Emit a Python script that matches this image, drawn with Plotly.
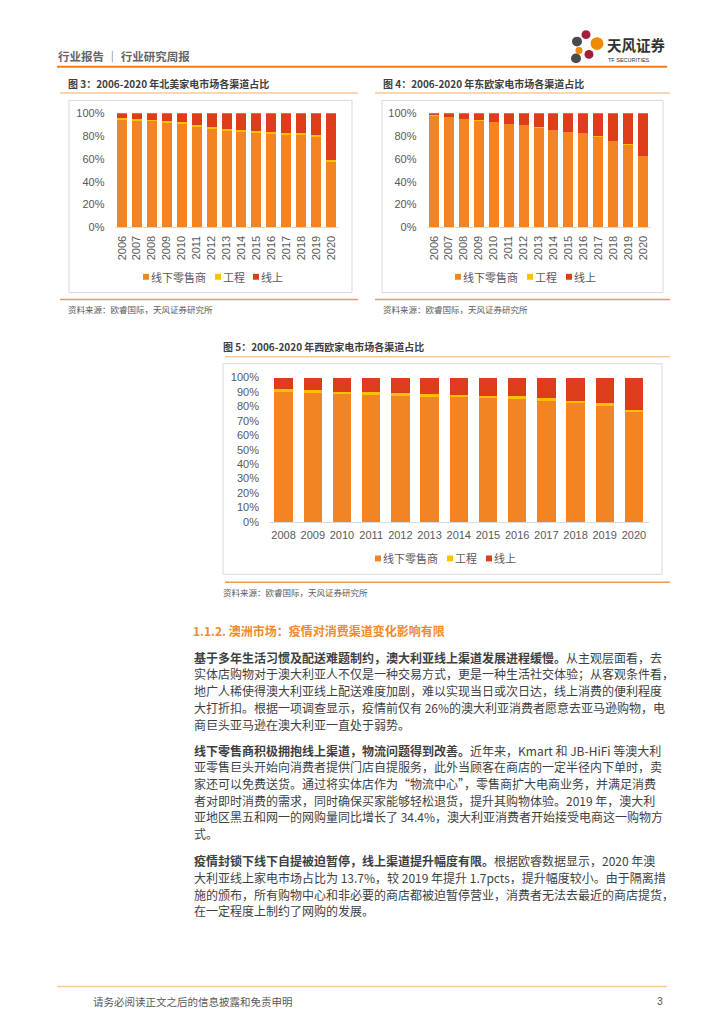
import plotly.graph_objects as go

# ---------------- data ----------------
years_na = ["2006", "2007", "2008", "2009", "2010", "2011", "2012", "2013",
            "2014", "2015", "2016", "2017", "2018", "2019", "2020"]
na_offline = [94.0, 93.5, 93.5, 92.0, 90.5, 88.5, 86.5, 84.5, 84.0, 82.5, 82.0, 81.0, 81.0, 79.0, 57.0]
na_project = [1.5, 1.5, 1.0, 1.5, 1.5, 1.5, 1.5, 1.5, 1.5, 2.0, 1.5, 2.0, 1.5, 1.5, 2.0]
na_online = [4.5, 5.0, 5.5, 6.5, 8.0, 10.0, 12.0, 14.0, 14.5, 15.5, 16.5, 17.0, 17.5, 19.5, 41.0]

years_ee = ["2006", "2007", "2008", "2009", "2010", "2011", "2012", "2013",
            "2014", "2015", "2016", "2017", "2018", "2019", "2020"]
ee_offline = [98.0, 96.5, 95.0, 93.5, 92.5, 90.5, 89.5, 87.5, 85.5, 83.5, 82.5, 79.5, 75.5, 72.5, 62.5]
ee_project = [0.2, 0.2, 0.2, 0.2, 0.2, 0.2, 0.2, 0.2, 0.2, 0.2, 0.2, 0.2, 0.2, 0.2, 0.2]
ee_online = [1.8, 3.3, 4.8, 6.3, 7.3, 9.3, 10.3, 12.3, 14.3, 16.3, 17.3, 20.3, 24.3, 27.3, 37.3]

years_we = ["2008", "2009", "2010", "2011", "2012", "2013", "2014", "2015",
            "2016", "2017", "2018", "2019", "2020"]
we_offline = [90.5, 90.0, 89.0, 88.5, 88.0, 87.5, 87.0, 86.5, 86.0, 84.5, 83.0, 81.0, 76.5]
we_project = [1.3, 1.1, 1.3, 1.3, 1.0, 1.1, 1.1, 1.0, 0.9, 1.1, 1.1, 1.1, 0.9]
we_online = [8.2, 8.9, 9.7, 10.2, 11.0, 11.4, 11.9, 12.5, 13.1, 14.4, 15.9, 17.9, 22.6]

series_names = ["线下零售商", "工程", "线上"]
pct_ticks_20 = [0, 20, 40, 60, 80, 100]
pct_labels_20 = ["0%", "20%", "40%", "60%", "80%", "100%"]
pct_ticks_10 = [0, 10, 20, 30, 40, 50, 60, 70, 80, 90, 100]
pct_labels_10 = ["0%", "10%", "20%", "30%", "40%", "50%", "60%", "70%", "80%", "90%", "100%"]

# ---------------- style ----------------
W, H = 724, 1024
C_OFF, C_PROJ, C_ONL = "#F38423", "#FFC000", "#DE3D1C"
COLORS = [C_OFF, C_PROJ, C_ONL]
CJK = "Noto Sans CJK SC"
NUM = "Liberation Sans, Noto Sans CJK SC"
GRAY = "#595959"
TXT = "#3F3F3F"


def px(x):
    return x / W


def py(y):
    return 1 - y / H


fig = go.Figure()


def add_chart(xa, ya, years, off, proj, onl, width):
    for name, vals, c in zip(series_names, [off, proj, onl], COLORS):
        fig.add_trace(go.Bar(x=years, y=vals, name=name, marker_color=c,
                             marker_line_width=0, width=width,
                             xaxis=xa, yaxis=ya, showlegend=False))


add_chart("x", "y", years_na, na_offline, na_project, na_online, 0.67)
add_chart("x2", "y2", years_ee, ee_offline, ee_project, ee_online, 0.67)
add_chart("x3", "y3", years_we, we_offline, we_project, we_online, 0.63)

shapes = []
annotations = []


def hline(x0, x1, y, color, w=1.5):
    shapes.append(dict(type="line", xref="paper", yref="paper",
                       x0=px(x0), x1=px(x1), y0=py(y), y1=py(y),
                       line=dict(color=color, width=w)))


def box(x0, x1, y0, y1):
    shapes.append(dict(type="rect", xref="paper", yref="paper",
                       x0=px(x0), x1=px(x1), y0=py(y1), y1=py(y0),
                       line=dict(color="#D9D9D9", width=1), fillcolor="rgba(0,0,0,0)",
                       layer="below"))


def text(x, y, s, size, color=TXT, family=CJK, anchor="left"):
    annotations.append(dict(x=px(x), y=py(y), xref="paper", yref="paper",
                            text=s, showarrow=False, xanchor=anchor, yanchor="middle",
                            font=dict(family=family, size=size, color=color),
                            borderpad=0))


def legend(xs, y):
    for x0, c, name in zip(xs, COLORS, series_names):
        shapes.append(dict(type="rect", xref="paper", yref="paper",
                           x0=px(x0), x1=px(x0 + 6), y0=py(y + 3), y1=py(y - 3),
                           line=dict(width=0), fillcolor=c))
        text(x0 + 7, y, name, 11, GRAY)


# header
text(57, 51, "<b>行业报告 ｜ 行业研究周报</b>", 11.5, "#666666")
hline(57, 667, 61.5, "#EE7D1E", 2)
# logo
for (cx, cy, r, c) in [(577, 36, 5, "#4A4A4A"), (586, 29, 4.5, "#A31E3A"), (597, 38, 6.5, "#F08A00"),
                       (579, 45, 3.5, "#F08A00"), (589, 49, 4.5, "#A31E3A"), (576, 53, 5, "#4A4A4A")]:
    shapes.append(dict(type="circle", xref="paper", yref="paper",
                       x0=px(cx - r), x1=px(cx + r), y0=py(cy + r), y1=py(cy - r),
                       line=dict(width=0), fillcolor=c))
text(606, 39, "<b>天风证券</b>", 14.5, "#333333")
text(607, 55, "TF SECURITIES", 5.5, "#333333", NUM)

# chart 3
text(67, 78, "<b>图 3：2006-2020 年北美家电市场各渠道占比</b>", 10, "#404040")
hline(60, 358, 88, "#FAC896", 1.5)
box(69, 352, 95.5, 290)
legend([143, 215, 253], 274)
hline(60, 358, 297, "#F39A4A", 1.5)
text(67, 307, "资料来源：欧睿国际，天风证券研究所", 8.5, GRAY)

# chart 4
text(382, 78, "<b>图 4：2006-2020 年东欧家电市场各渠道占比</b>", 10, "#404040")
hline(375, 670, 88, "#FAC896", 1.5)
box(382, 663, 95.5, 290)
legend([455, 527, 566], 274)
hline(375, 670, 297, "#F39A4A", 1.5)
text(382, 307, "资料来源：欧睿国际，天风证券研究所", 8.5, GRAY)

# chart 5
text(222, 345, "<b>图 5：2006-2020 年西欧家电市场各渠道占比</b>", 10, "#404040")
hline(225, 670, 355, "#FAC896", 1.5)
box(223, 662, 362, 575)
legend([375, 447, 486], 559)
hline(225, 670, 583, "#F39A4A", 1.5)
text(222, 593, "资料来源：欧睿国际，天风证券研究所", 8.5, GRAY)

# body text
text(192, 632, "<b>1.1.2. 澳洲市场：疫情对消费渠道变化影响有限</b>", 12, "#F08A2C")

para1 = [
    "<b>基于多年生活习惯及配送难题制约，澳大利亚线上渠道发展进程缓慢。</b>从主观层面看，去",
    "实体店购物对于澳大利亚人不仅是一种交易方式，更是一种生活社交体验；从客观条件看，",
    "地广人稀使得澳大利亚线上配送难度加剧，难以实现当日或次日达，线上消费的便利程度",
    "大打折扣。根据一项调查显示，疫情前仅有 26%的澳大利亚消费者愿意去亚马逊购物，电",
    "商巨头亚马逊在澳大利亚一直处于弱势。",
]
para2 = [
    "<b>线下零售商积极拥抱线上渠道，物流问题得到改善。</b>近年来，Kmart 和 JB-HiFi 等澳大利",
    "亚零售巨头开始向消费者提供门店自提服务，此外当顾客在商店的一定半径内下单时，卖",
    "家还可以免费送货。通过将实体店作为“物流中心”，零售商扩大电商业务，并满足消费",
    "者对即时消费的需求，同时确保买家能够轻松退货，提升其购物体验。2019 年，澳大利",
    "亚地区黑五和网一的网购量同比增长了 34.4%，澳大利亚消费者开始接受电商这一购物方",
    "式。",
]
para3 = [
    "<b>疫情封锁下线下自提被迫暂停，线上渠道提升幅度有限。</b>根据欧睿数据显示，2020 年澳",
    "大利亚线上家电市场占比为 13.7%，较 2019 年提升 1.7pcts，提升幅度较小。由于隔离措",
    "施的颁布，所有购物中心和非必要的商店都被迫暂停营业，消费者无法去最近的商店提货，",
    "在一定程度上制约了网购的发展。",
]
for start, para in [(659, para1), (753, para2), (865, para3)]:
    for i, line in enumerate(para):
        text(193, start + i * 16.9, line, 12, TXT)

# footer
hline(57, 667, 992, "#F9C98E", 1.5)
text(92, 1007, "请务必阅读正文之后的信息披露和免责申明", 10.5, GRAY)
text(664, 1007, "3", 10.5, GRAY, NUM, anchor="right")

# ---------------- axes ----------------
xcommon = dict(type="category", showline=True, linecolor="#D9D9D9", linewidth=1,
               showgrid=False, ticks="", zeroline=False,
               tickfont=dict(family=NUM, size=11, color=GRAY))
ycommon = dict(range=[0, 100], showgrid=False, zeroline=False, tickmode="array",
               showline=False, ticks="", ticklabelstandoff=9,
               tickfont=dict(family=NUM, size=11, color=GRAY))

fig.update_layout(
    width=W, height=H, autosize=False,
    margin=dict(l=0, r=0, t=0, b=0),
    paper_bgcolor="white", plot_bgcolor="rgba(0,0,0,0)",
    barmode="stack", showlegend=False,
    xaxis=dict(xcommon, domain=[px(114.5), px(338.5)], anchor="y", tickangle=-90, ticklabelstandoff=3),
    yaxis=dict(ycommon, domain=[py(224), py(108.5)], anchor="x",
               tickvals=pct_ticks_20, ticktext=pct_labels_20),
    xaxis2=dict(xcommon, domain=[px(426.5), px(650.5)], anchor="y2", tickangle=-90, ticklabelstandoff=3),
    yaxis2=dict(ycommon, domain=[py(224), py(108.5)], anchor="x2",
                tickvals=pct_ticks_20, ticktext=pct_labels_20),
    xaxis3=dict(xcommon, domain=[px(269), px(648.5)], anchor="y3", tickangle=0, ticklabelstandoff=3),
    yaxis3=dict(ycommon, domain=[py(522), py(376)], anchor="x3",
                tickvals=pct_ticks_10, ticktext=pct_labels_10),
    shapes=shapes, annotations=annotations,
)

fig.write_html("out.html", config={"displayModeBar": False},
               post_script="document.body.style.margin='0';document.body.style.padding='0';")
